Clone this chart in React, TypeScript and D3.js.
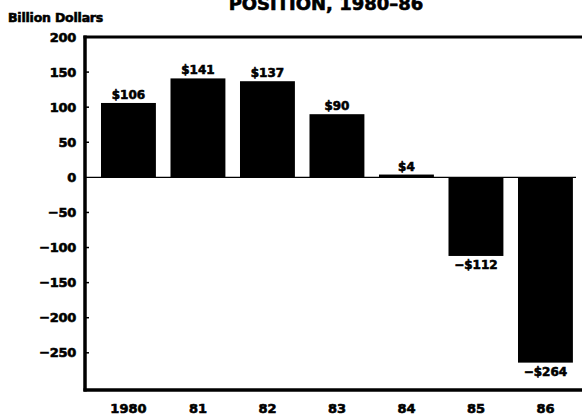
import React from "react";
import * as d3 from "d3";

const years = ["1980", "81", "82", "83", "84", "85", "86"];
const values = [106, 141, 137, 90, 4, -112, -264];
const valueLabels = ["$106", "$141", "$137", "$90", "$4", "−$112", "−$264"];
const yTicks = [200, 150, 100, 50, 0, -50, -100, -150, -200, -250];

const W = 582;
const H = 417;
const FONT = "'DejaVu Sans', Arial, sans-serif";

export default function App() {
  const axisX = 85;
  const right = W;
  const y = d3.scaleLinear().domain([-303, 200]).range([390, 37]);
  const x = d3
    .scaleBand<string>()
    .domain(years)
    .range([93.7, 580.2])
    .paddingInner(0.21)
    .paddingOuter(0.105);
  const fmt = (v: number) => (v < 0 ? "−" + Math.abs(v) : String(v));
  const heavy = { stroke: "#000", strokeWidth: 0.6 } as const;

  return (
    <svg
      width={W}
      height={H}
      style={{ position: "absolute", left: 0, top: 0, background: "#fff" }}
      fontFamily={FONT}
    >
      <rect x={0} y={0} width={W} height={H} fill="#fff" />
      <text x={326} y={10} textAnchor="middle" fontSize={18} fontWeight="bold" {...heavy}>
        POSITION, 1980–86
      </text>
      <text x={8} y={22} fontSize={12.5} fontWeight="bold" letterSpacing={-0.2} {...heavy}>
        Billion Dollars
      </text>

      {/* bars */}
      {values.map((v, i) => {
        const bx = x(years[i])!;
        const y0 = y(0);
        const y1 = y(v);
        return (
          <rect
            key={"b" + i}
            x={bx}
            y={Math.min(y0, y1)}
            width={x.bandwidth()}
            height={Math.abs(y1 - y0)}
            fill="#000"
          />
        );
      })}

      {/* zero line */}
      <line x1={axisX} x2={576} y1={y(0)} y2={y(0)} stroke="#000" strokeWidth={1.2} />

      {/* value labels */}
      {values.map((v, i) => {
        const cx = x(years[i])! + x.bandwidth() / 2;
        const ly = v >= 0 ? y(v) - 4 : y(v) + 13;
        return (
          <text
            key={"v" + i}
            x={cx}
            y={ly}
            textAnchor="middle"
            fontSize={12}
            fontWeight="bold"
            {...heavy}
          >
            {valueLabels[i]}
          </text>
        );
      })}

      {/* frame */}
      <line x1={axisX - 1.5} x2={right} y1={y(200)} y2={y(200)} stroke="#000" strokeWidth={3} />
      <line x1={axisX - 1.5} x2={right} y1={390} y2={390} stroke="#000" strokeWidth={3.5} />
      <line x1={axisX} x2={axisX} y1={y(200) - 1.5} y2={391.5} stroke="#000" strokeWidth={3.5} />

      {/* y ticks */}
      {yTicks.map((t) => (
        <g key={"t" + t}>
          {t !== 200 && t !== 0 && (
            <line x1={axisX} x2={axisX + 4} y1={y(t)} y2={y(t)} stroke="#000" strokeWidth={1.5} />
          )}
          <text
            x={76}
            y={y(t) + 4.5}
            textAnchor="end"
            fontSize={13}
            fontWeight="bold"
            letterSpacing={-0.3}
            {...heavy}
          >
            {fmt(t)}
          </text>
        </g>
      ))}

      {/* x labels */}
      {years.map((yr) => (
        <text
          key={"x" + yr}
          x={x(yr)! + x.bandwidth() / 2}
          y={413}
          textAnchor="middle"
          fontSize={13}
          fontWeight="bold"
          {...heavy}
        >
          {yr}
        </text>
      ))}
    </svg>
  );
}
